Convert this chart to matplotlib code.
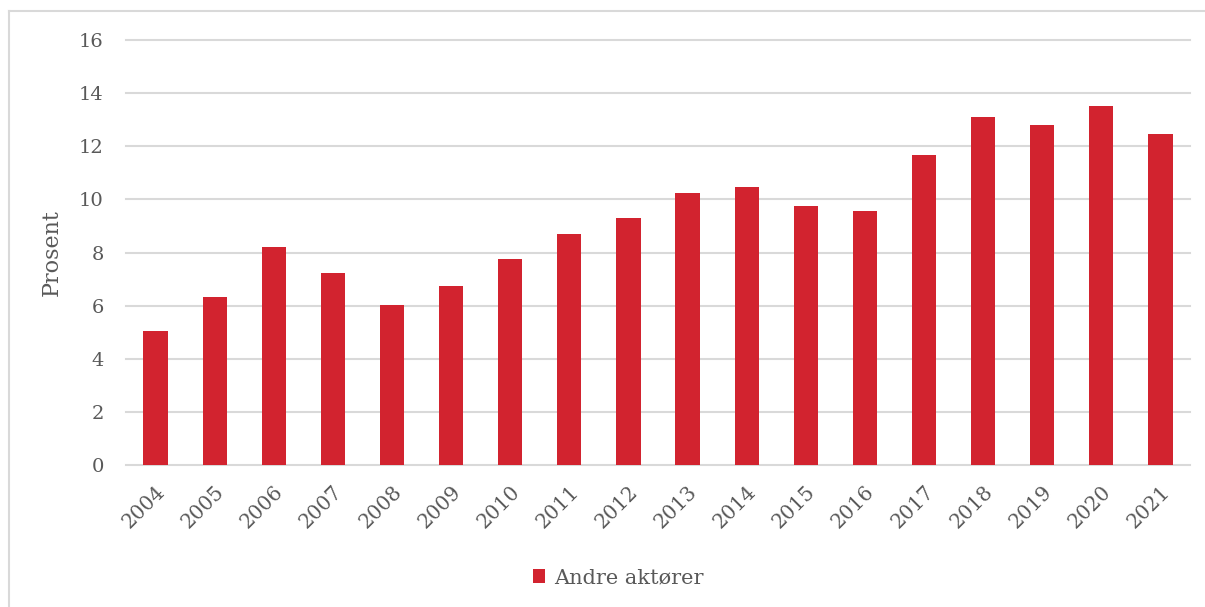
import matplotlib.pyplot as plt
from matplotlib.lines import Line2D
import numpy as np

years = [str(y) for y in range(2004, 2022)]
andre_aktorer = [5.05, 6.33, 8.21, 7.23, 6.02, 6.74, 7.76, 8.70, 9.30,
                 10.24, 10.47, 9.75, 9.56, 11.67, 13.10, 12.80, 13.52, 12.46]
y_ticks = [0, 2, 4, 6, 8, 10, 12, 14, 16]

red = '#D2232F'
grey_text = '#595959'
grid_col = '#D9D9D9'

plt.rcParams['font.family'] = ['DejaVu Serif']

fig = plt.figure(figsize=(12.05, 6.07), dpi=100)
ax = fig.add_axes([126 / 1205, 142 / 607, 1064 / 1205, 425 / 607])

x = np.arange(len(years))
ax.bar(x, andre_aktorer, width=0.41, color=red, label='Andre aktører', zorder=3)

ax.set_xlim(-0.5, len(years) - 0.5)
ax.set_ylim(0, 16)
ax.set_yticks(y_ticks)
ax.set_yticklabels([str(t) for t in y_ticks], fontsize=14, color=grey_text)
ax.set_xticks(x)
ax.set_xticklabels(years, rotation=45, ha='right', rotation_mode='anchor',
                   fontsize=14.5, color=grey_text)
ax.tick_params(axis='both', length=0)
ax.tick_params(axis='y', pad=16)
ax.tick_params(axis='x', pad=12)

for y in y_ticks:
    ax.axhline(y, color=grid_col, linewidth=1.5, zorder=1, clip_on=False)
for s in ax.spines.values():
    s.set_visible(False)

ax.set_ylabel('Prosent', fontsize=16, color=grey_text, labelpad=12)

# light frame: only its left and top edges fall inside the figure
fx, fy = 9 / 1205, 1 - 11 / 607
fig.add_artist(Line2D([fx, fx], [0, fy], transform=fig.transFigure,
                      color=grid_col, linewidth=1.5))
fig.add_artist(Line2D([fx, 1], [fy, fy], transform=fig.transFigure,
                      color=grid_col, linewidth=1.5))

fig.legend(loc='center', bbox_to_anchor=(0.513, 0.048), frameon=False,
           fontsize=15, labelcolor=grey_text, handlelength=0.6, handleheight=0.6,
           handletextpad=0.4)

fig.savefig('out.png', dpi=100)
